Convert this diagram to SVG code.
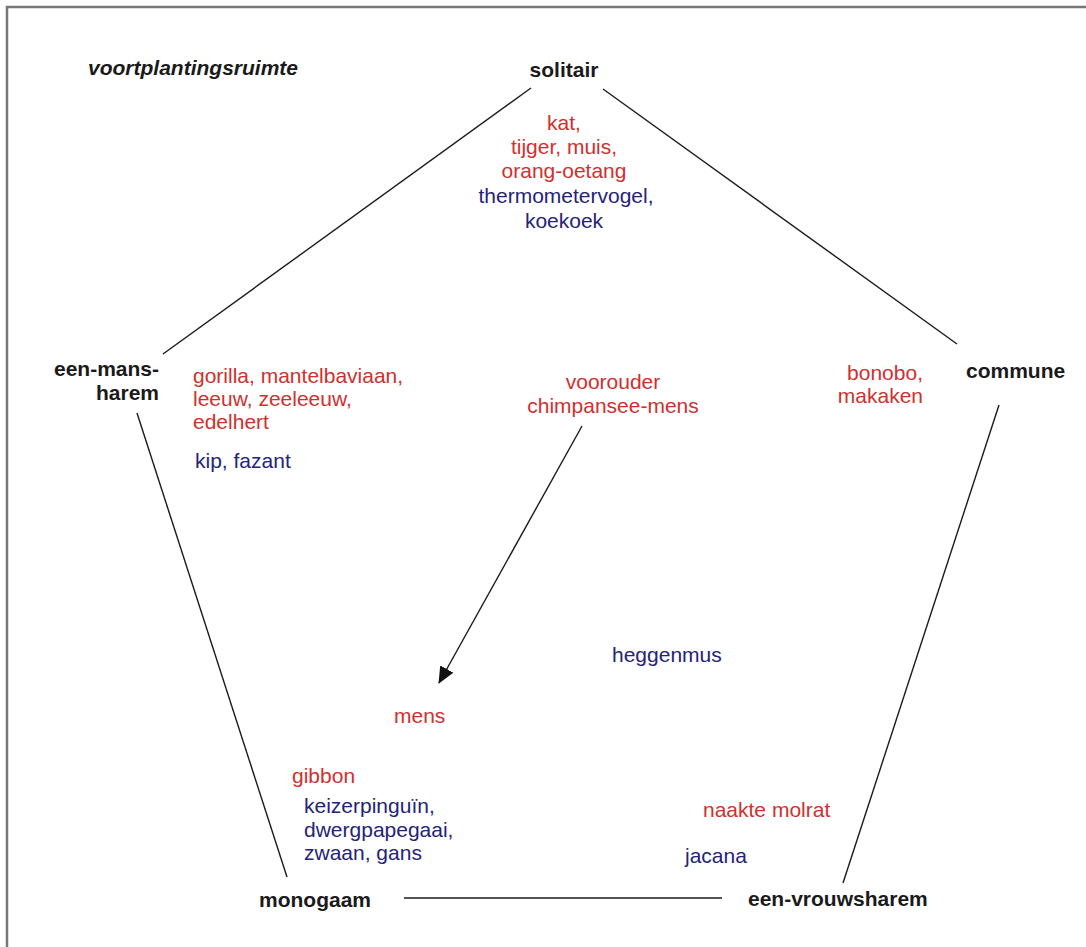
<svg xmlns="http://www.w3.org/2000/svg" width="1086" height="947" viewBox="0 0 1086 947">
<defs>
<style>
.lab{font-family:"Liberation Sans",Arial,sans-serif;font-weight:bold;font-size:21px;fill:#1a1a1a}
.r{font-family:"Liberation Sans",Arial,sans-serif;font-size:21px;fill:#d0302e}
.b{font-family:"Liberation Sans",Arial,sans-serif;font-size:21px;fill:#25237a}
.ln{stroke:#1a1a1a;stroke-width:1.4;fill:none}
</style>
<marker id="ah" markerWidth="17" markerHeight="15" refX="16" refY="7.5" orient="auto" markerUnits="userSpaceOnUse">
<path d="M0,0 L17,7.5 L0,15 Z" fill="#111"/>
</marker>
</defs>
<rect width="1086" height="947" fill="#fff"/>
<path d="M7,960 L7,7 L1100,7" stroke="#777" stroke-width="2.5" fill="none"/>
<text x="88" y="75" class="lab" style="font-style:italic">voortplantingsruimte</text>
<g id="connectors">
<line class="ln" x1="531" y1="88" x2="163" y2="354"/>
<line class="ln" x1="603" y1="89" x2="957" y2="344"/>
<line class="ln" x1="137" y1="413" x2="287" y2="877"/>
<line class="ln" x1="999" y1="405" x2="843" y2="883"/>
<line class="ln" x1="404" y1="898" x2="722" y2="898"/>
<line class="ln" x1="582" y1="426" x2="439" y2="683" marker-end="url(#ah)"/>
</g>
<g id="solitair">
<text x="564" y="77" class="lab" text-anchor="middle">solitair</text>
<text class="r" text-anchor="middle"><tspan x="564" y="130">kat,</tspan><tspan x="564" y="154">tijger, muis,</tspan><tspan x="564" y="178">orang-oetang</tspan></text>
<text class="b" text-anchor="middle"><tspan x="566" y="203">thermometervogel,</tspan><tspan x="564" y="228">koekoek</tspan></text>
</g>
<g id="een-mans-harem">
<text class="lab" text-anchor="end"><tspan x="159" y="376">een-mans-</tspan><tspan x="159" y="400">harem</tspan></text>
<text class="r"><tspan x="193" y="383">gorilla, mantelbaviaan,</tspan><tspan x="193" y="406">leeuw, zeeleeuw,</tspan><tspan x="193" y="429">edelhert</tspan></text>
<text x="195" y="468" class="b">kip, fazant</text>
</g>
<g id="voorouder">
<text class="r" text-anchor="middle"><tspan x="613" y="389">voorouder</tspan><tspan x="613" y="413">chimpansee-mens</tspan></text>
</g>
<g id="commune">
<text x="966" y="378" class="lab">commune</text>
<text class="r" text-anchor="end"><tspan x="923" y="380">bonobo,</tspan><tspan x="923" y="403">makaken</tspan></text>
</g>
<g id="heggenmus">
<text x="612" y="662" class="b">heggenmus</text>
</g>
<g id="mens">
<text x="394" y="723" class="r">mens</text>
</g>
<g id="monogaam">
<text x="259" y="907" class="lab">monogaam</text>
<text x="292" y="783" class="r">gibbon</text>
<text class="b"><tspan x="304" y="813">keizerpinguïn,</tspan><tspan x="304" y="837">dwergpapegaai,</tspan><tspan x="304" y="860">zwaan, gans</tspan></text>
</g>
<g id="een-vrouwsharem">
<text x="748" y="906" class="lab">een-vrouwsharem</text>
<text x="703" y="817" class="r">naakte molrat</text>
<text x="685" y="863" class="b">jacana</text>
</g>
</svg>
